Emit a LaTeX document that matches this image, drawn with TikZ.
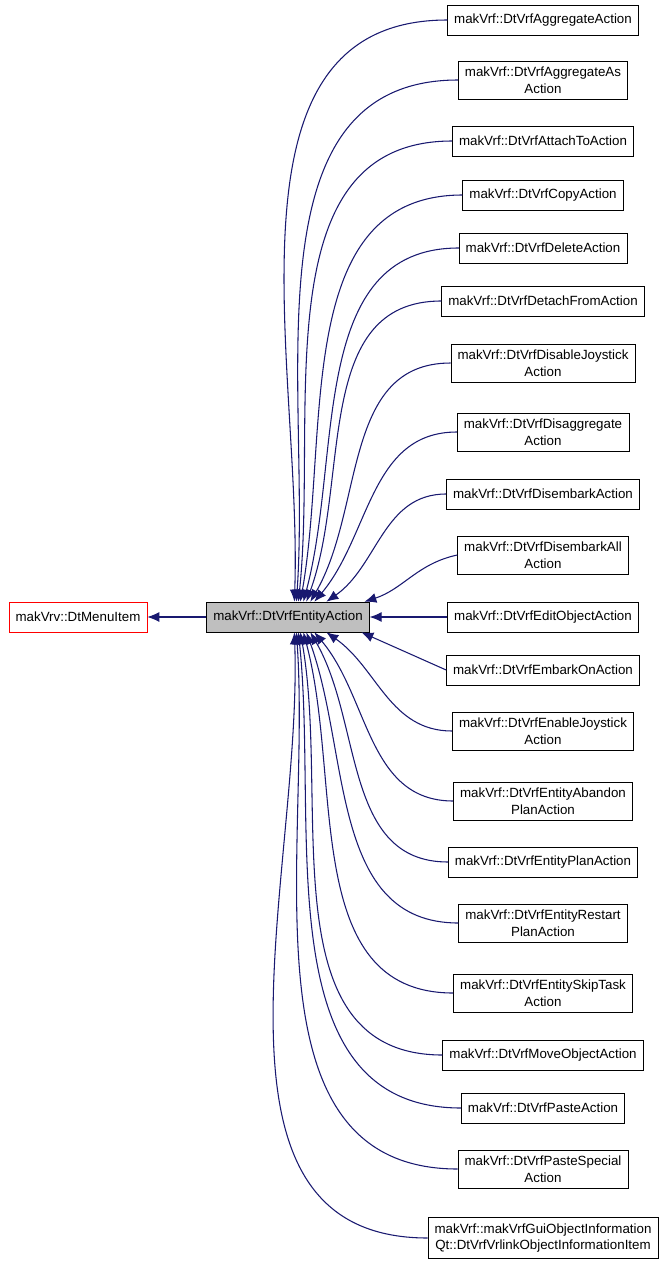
\documentclass[tikz,border=0pt]{standalone}
\usepackage{fontspec}
\setmainfont{Liberation Sans}
\usetikzlibrary{calc,arrows.meta}
\definecolor{edgeblue}{HTML}{191970}
\begin{document}
\begin{tikzpicture}[
    x=0.75pt, y=-0.75pt,
    cls/.style={rectangle, draw, fill=white, align=center, inner xsep=5pt, inner ysep=4.5pt, font=\fontsize{10}{12.5}\selectfont, minimum height=22.5pt},
    base/.style={cls, draw=red},
    focus/.style={cls, fill=black!25},
    edge/.style={-{Latex[length=9pt,width=7.5pt]}, edgeblue, line width=0.8pt}
]
\useasboundingbox (0,0) rectangle (667,1267);

% Parent nodes
\node[focus] (entity) at (288,617) {makVrf::DtVrfEntityAction};
\node[base] (menu) at (78,617) {makVrv::DtMenuItem};

% Derived classes
\foreach \i/\yy/\txt in {
  1/20/{makVrf::DtVrfAggregateAction},
  2/80/{makVrf::DtVrfAggregateAs\\Action},
  3/141/{makVrf::DtVrfAttachToAction},
  4/195/{makVrf::DtVrfCopyAction},
  5/248/{makVrf::DtVrfDeleteAction},
  6/301/{makVrf::DtVrfDetachFromAction},
  7/363/{makVrf::DtVrfDisableJoystick\\Action},
  8/432/{makVrf::DtVrfDisaggregate\\Action},
  9/494/{makVrf::DtVrfDisembarkAction},
  10/555/{makVrf::DtVrfDisembarkAll\\Action},
  11/617/{makVrf::DtVrfEditObjectAction},
  12/670/{makVrf::DtVrfEmbarkOnAction},
  13/731/{makVrf::DtVrfEnableJoystick\\Action},
  14/801/{makVrf::DtVrfEntityAbandon\\PlanAction},
  15/862/{makVrf::DtVrfEntityPlanAction},
  16/923/{makVrf::DtVrfEntityRestart\\PlanAction},
  17/993/{makVrf::DtVrfEntitySkipTask\\Action},
  18/1055/{makVrf::DtVrfMoveObjectAction},
  19/1108/{makVrf::DtVrfPasteAction},
  20/1169/{makVrf::DtVrfPasteSpecial\\Action},
  21/1238/{makVrf::makVrfGuiObjectInformation\\Qt::DtVrfVrlinkObjectInformationItem}}
  \node[cls] (c\i) at (543,\yy) {\txt};

% Edges
\draw[edge] (entity) -- (menu);
\draw[edge] (c11) -- (entity);
\foreach \i/\dx/\o/\a in {1/88/180/88, 2/90/180/86, 3/92/180/84, 4/94/180/80,
  5/97/180/75, 6/100/180/70, 7/104/180/60, 8/108/180/50, 9/120/180/35, 10/158/192/18}
  \draw[edge] (c\i.west) to[out=\o, in=\a] ($(entity.north west)+(\dx,0)$);
\foreach \i/\dx/\o/\a in {12/155/156/-24, 13/120/180/-35, 14/108/180/-50, 15/104/180/-60,
  16/100/180/-70, 17/97/180/-75, 18/94/180/-80, 19/92/180/-84, 20/90/180/-86, 21/88/180/-88}
  \draw[edge] (c\i.west) to[out=\o, in=\a] ($(entity.south west)+(\dx,0)$);
\end{tikzpicture}
\end{document}
